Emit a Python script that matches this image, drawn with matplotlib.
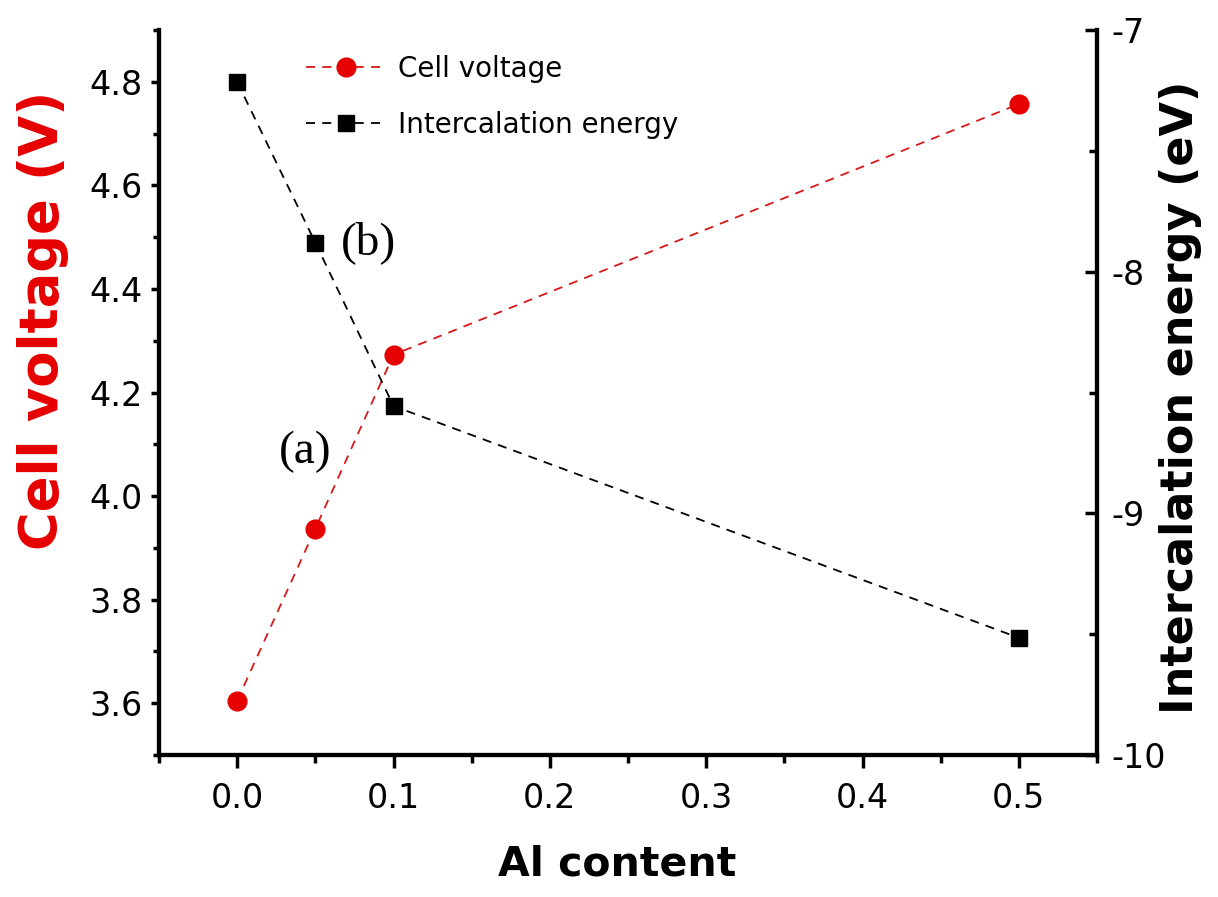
import matplotlib
matplotlib.use("Agg")
import matplotlib.pyplot as plt
from matplotlib.ticker import MultipleLocator, FormatStrFormatter

al_content = [0.0, 0.05, 0.1, 0.5]
cell_voltage = [3.605, 3.937, 4.273, 4.757]
intercalation_energy = [-7.215, -7.880, -8.556, -9.515]

plt.rcParams['font.family'] = ['DejaVu Sans']

fig = plt.figure(figsize=(12.18, 8.97), dpi=100)
ax = fig.add_axes([159/1218, 1-755/897, (1097-159)/1218, (755-30)/897])
ax2 = ax.twinx()

red = '#e60000'
line_red = '#d81818'

l1, = ax.plot(al_content, cell_voltage, linestyle='--', dashes=(5, 4), color=line_red,
              lw=1.3, marker='o', markersize=13.5, markerfacecolor=red,
              markeredgecolor=red, label='Cell voltage', zorder=3)
l2, = ax2.plot(al_content, intercalation_energy, linestyle='--', dashes=(5, 4), color='black',
               lw=1.3, marker='s', markersize=12, markerfacecolor='black',
               markeredgecolor='black', label='Intercalation energy', zorder=3)

ax.set_xlim(-0.05, 0.55)
ax.set_ylim(3.5, 4.9)
ax2.set_ylim(-10, -7)

ax.xaxis.set_major_locator(MultipleLocator(0.1))
ax.xaxis.set_minor_locator(MultipleLocator(0.05))
ax.xaxis.set_major_formatter(FormatStrFormatter('%.1f'))
ax.yaxis.set_major_locator(MultipleLocator(0.2))
ax.yaxis.set_minor_locator(MultipleLocator(0.1))
ax.yaxis.set_major_formatter(FormatStrFormatter('%.1f'))
ax2.yaxis.set_major_locator(MultipleLocator(1))
ax2.yaxis.set_minor_locator(MultipleLocator(0.5))
ax2.yaxis.set_major_formatter(FormatStrFormatter('%d'))

for a in (ax, ax2):
    a.spines['top'].set_visible(False)
    for s in ('left', 'right', 'bottom'):
        a.spines[s].set_linewidth(3)

ax.tick_params(axis='x', which='major', direction='out', length=9, width=2.5,
               labelsize=24, pad=10.5)
ax.tick_params(axis='x', which='minor', direction='out', length=6, width=2.5)
ax.tick_params(axis='y', which='major', direction='out', length=6, width=2.5,
               labelsize=24, pad=6)
ax.tick_params(axis='y', which='minor', direction='out', length=4.5, width=2.5)
ax.tick_params(axis='y', which='both', right=False)
ax2.tick_params(axis='y', which='major', direction='in', length=9, width=2.5,
                labelsize=24, pad=10)
ax2.tick_params(axis='y', which='minor', direction='in', length=6, width=2.5)

ax.set_xlabel('Al content', fontsize=29.5, fontweight='bold')
ax.xaxis.set_label_coords(0.488, -0.123)
ax.set_ylabel('Cell voltage (V)', fontsize=38, fontweight='bold', color=red)
ax.yaxis.set_label_coords(-0.096, 0.599)
ax2.set_ylabel('Intercalation energy (eV)', fontsize=32, fontweight='bold', rotation=90)
ax2.yaxis.set_label_coords(1.066, 0.494)

ax.text(0.0838, 4.49, '(b)', fontsize=34, family='Liberation Serif',
        ha='center', va='center')
ax.text(0.0435, 4.086, '(a)', fontsize=34, family='Liberation Serif',
        ha='center', va='center')

leg = ax.legend(handles=[l1, l2], loc='upper left', frameon=False,
                bbox_to_anchor=(306/1218, 1-55/897), bbox_transform=fig.transFigure,
                fontsize=20, handlelength=2.9, handletextpad=0.4, labelspacing=1.0,
                borderpad=0, borderaxespad=0)

fig.savefig('out.png', dpi=100)
